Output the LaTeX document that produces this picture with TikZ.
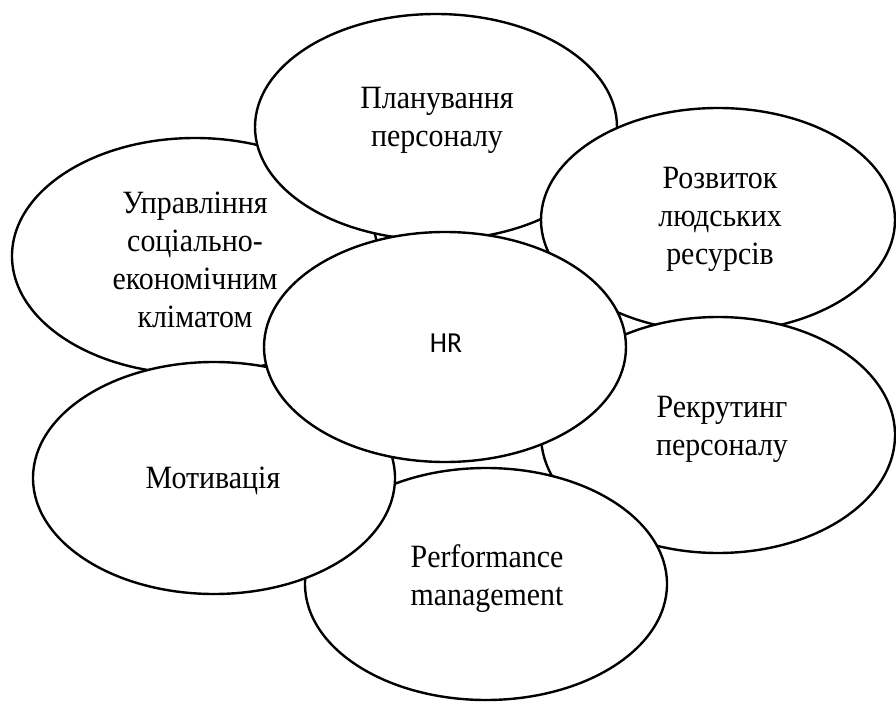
\documentclass[tikz,border=0pt]{standalone}
\usepackage{fontspec}
\setmainfont{Liberation Serif}[FakeStretch=0.92]
\newfontfamily\hrfont{Carlito}[FakeStretch=0.95]
\usetikzlibrary{shapes.geometric}
\begin{document}
\begin{tikzpicture}[x=1pt,y=-1pt,
  blob/.style={ellipse, draw, line width=2.4pt, fill=white, inner sep=0pt},
  lbl/.style={anchor=base, inner sep=0pt, align=center,
    font=\fontsize{32.5}{38}\selectfont}]
\useasboundingbox (0,0) rectangle (896,703);
\node[blob, minimum width=366, minimum height=236] (upr) at (195,256) {};
\node[lbl] (uprt) at (195,327) {Управління\\соціально-\\економічним\\кліматом};
\node[blob, minimum width=362, minimum height=226] (plan) at (436,127) {};
\node[lbl] (plant) at (437,147) {Планування\\персоналу};
\node[blob, minimum width=354, minimum height=224] (rozv) at (718,220) {};
\node[lbl] (rozvt) at (720,265) {Розвиток\\людських\\ресурсів};
\node[blob, minimum width=354, minimum height=236] (rekr) at (718,435) {};
\node[lbl] (rekrt) at (722,455) {Рекрутинг\\персоналу};
\node[blob, minimum width=362, minimum height=232] (perf) at (486,584) {};
\node[lbl] (perft) at (487,605) {Performance\\management};
\node[blob, minimum width=362, minimum height=232] (motiv) at (214,478) {};
\node[lbl] (motivt) at (213,488) {Мотивація};
\node[blob, minimum width=362, minimum height=230] (hr) at (445,347) {};
\node[lbl, font=\hrfont\fontsize{29}{34}\selectfont] (hrt) at (446,352) {HR};
\end{tikzpicture}
\end{document}
